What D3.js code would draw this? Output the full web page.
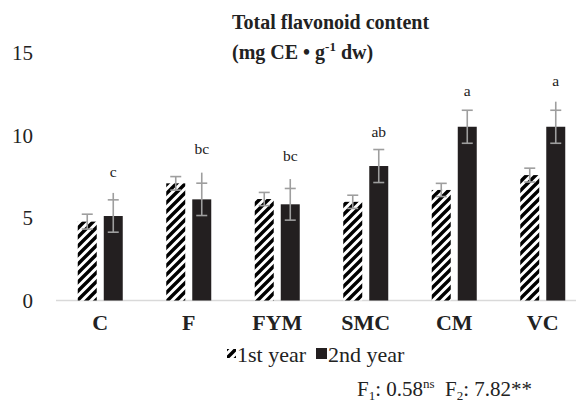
<!DOCTYPE html>
<html><head><meta charset="utf-8">
<script src="https://cdn.jsdelivr.net/npm/d3@7"></script>
<style>body{margin:0;background:#fff}svg{display:block}svg text{font-family:"Liberation Serif","Times New Roman",serif}</style>
</head><body><svg id="c" width="576" height="405"></svg>
<script>
const categories = ["C","F","FYM","SMC","CM","VC"];
const seriesNames = ["1st year","2nd year"];
const year1 = [4.78, 7.1, 6.15, 5.98, 6.7, 7.6];
const year1Err = [0.45, 0.41, 0.4, 0.4, 0.4, 0.42];
const year2 = [5.12, 6.13, 5.83, 8.15, 10.53, 10.53];
const year2Err = [0.98, 0.98, 0.96, 1.0, 1.0, 1.0];
const year2StemUp = [1.4, 1.62, 1.53, 1.0, 1.0, 1.52];
const letters = ["c","bc","bc","ab","a","a"];
const letterPos = [7.47, 8.88, 8.45, 9.93, 12.41, 13.02];
const yTicks = [0,5,10,15];

const svg = d3.select("#c");
const serif = "'Liberation Serif','Times New Roman',serif";
const defs = svg.append("defs");
const pat = defs.append("pattern").attr("id","hatch").attr("patternUnits","userSpaceOnUse")
  .attr("width",9).attr("height",9);
pat.append("rect").attr("width",9).attr("height",9).attr("fill","#fff");
pat.append("path").attr("d","M-2,2 L2,-2 M0,9 L9,0 M7,11 L11,7")
  .attr("stroke","#000").attr("stroke-width",3.4);

const y = d3.scaleLinear().domain([0,15]).range([300.5,53]);
const x0 = d3.scaleBand().domain(categories).range([56,587]).padding(0);
const groupW = 45;
const x1 = d3.scaleBand().domain(seriesNames).range([0,groupW]).paddingInner(0.27);
const off = (x0.bandwidth()-groupW)/2;

// baseline
svg.append("line").attr("x1",56).attr("x2",576).attr("y1",y(0)).attr("y2",y(0))
  .attr("stroke","#d9d9d9").attr("stroke-width",1.5);

// y tick labels
const yAxis = d3.axisLeft(y).tickValues(yTicks).tickSize(0).tickPadding(0);
const ya = svg.append("g").attr("transform","translate(33,0)").call(yAxis);
ya.attr("font-family",null);
ya.select(".domain").remove();
ya.selectAll("text").style("font-family",serif).style("font-size","21px").attr("fill","#222").attr("dy","0.33em");

// x labels
const xAxis = d3.axisBottom(x0).tickSize(0).tickPadding(0);
const xa = svg.append("g").attr("transform","translate(0,330)").call(xAxis);
xa.attr("font-family",null);
xa.select(".domain").remove();
xa.selectAll("text").style("font-family",serif).style("font-size","22px").style("font-weight","bold").attr("fill","#222").attr("dy",0);

const series = [
  {name:seriesNames[0], vals:year1, errs:year1Err, up:year1Err, fill:"url(#hatch)"},
  {name:seriesNames[1], vals:year2, errs:year2Err, up:year2StemUp, fill:"#231f20"}
];
series.forEach(s=>{
  const g = svg.append("g");
  g.selectAll("rect").data(categories).join("rect")
    .attr("x",(c)=>x0(c)+off+x1(s.name))
    .attr("width",x1.bandwidth())
    .attr("y",(c,i)=>y(s.vals[i]))
    .attr("height",(c,i)=>y(0)-y(s.vals[i]))
    .attr("fill",s.fill);
});
series.forEach(s=>{
  const g = svg.append("g").attr("stroke","#9e9e9e").attr("stroke-width",1.6);
  categories.forEach((c,i)=>{
    const cx = x0(c)+off+x1(s.name)+x1.bandwidth()/2;
    const top = y(s.vals[i]+s.errs[i]), bot = y(s.vals[i]-s.errs[i]);
    g.append("line").attr("x1",cx).attr("x2",cx).attr("y1",y(s.vals[i]+s.up[i])).attr("y2",bot);
    g.append("line").attr("x1",cx-5.5).attr("x2",cx+5.5).attr("y1",top).attr("y2",top);
    g.append("line").attr("x1",cx-5.5).attr("x2",cx+5.5).attr("y1",bot).attr("y2",bot);
  });
});
// letters
svg.append("g").selectAll("text").data(categories).join("text")
  .attr("x",c=>x0(c)+off+x1(seriesNames[1])+x1.bandwidth()/2)
  .attr("y",(c,i)=>y(letterPos[i]))
  .attr("text-anchor","middle").style("font-size","15.5px").attr("fill","#222")
  .text((c,i)=>letters[i]);

// title
const t = svg.append("text").style("font-size","20px").style("font-weight","bold").attr("fill","#222");
t.append("tspan").attr("x",232).attr("y",29).text("Total flavonoid content");
const t2 = t.append("tspan").attr("x",232).attr("y",59);
t2.text("(mg CE • g");
t.append("tspan").style("font-size","13px").attr("dy",-8).text("-1");
t.append("tspan").attr("dy",8).text(" dw)");

// legend
const lg = svg.append("g").attr("fill","#222");
lg.append("rect").attr("x",227).attr("y",349).attr("width",9).attr("height",9).attr("fill","url(#hatch)");
lg.append("text").attr("x",237).attr("y",362).style("font-size","22px").text(seriesNames[0]);
lg.append("rect").attr("x",316).attr("y",348).attr("width",11).attr("height",11).attr("fill","#231f20");
lg.append("text").attr("x",328).attr("y",362).style("font-size","22px").text(seriesNames[1]);

// footer
const f = svg.append("text").attr("x",357).attr("y",396).style("font-size","21px").attr("fill","#222");
f.append("tspan").text("F");
f.append("tspan").style("font-size","13px").attr("dy",4).text("1");
f.append("tspan").attr("dy",-4).text(": 0.58");
f.append("tspan").style("font-size","13px").attr("dy",-8).text("ns");
f.append("tspan").attr("dy",8).text("\u00a0 F");
f.append("tspan").style("font-size","13px").attr("dy",4).text("2");
f.append("tspan").attr("dy",-4).text(": 7.82**");
</script></body></html>
